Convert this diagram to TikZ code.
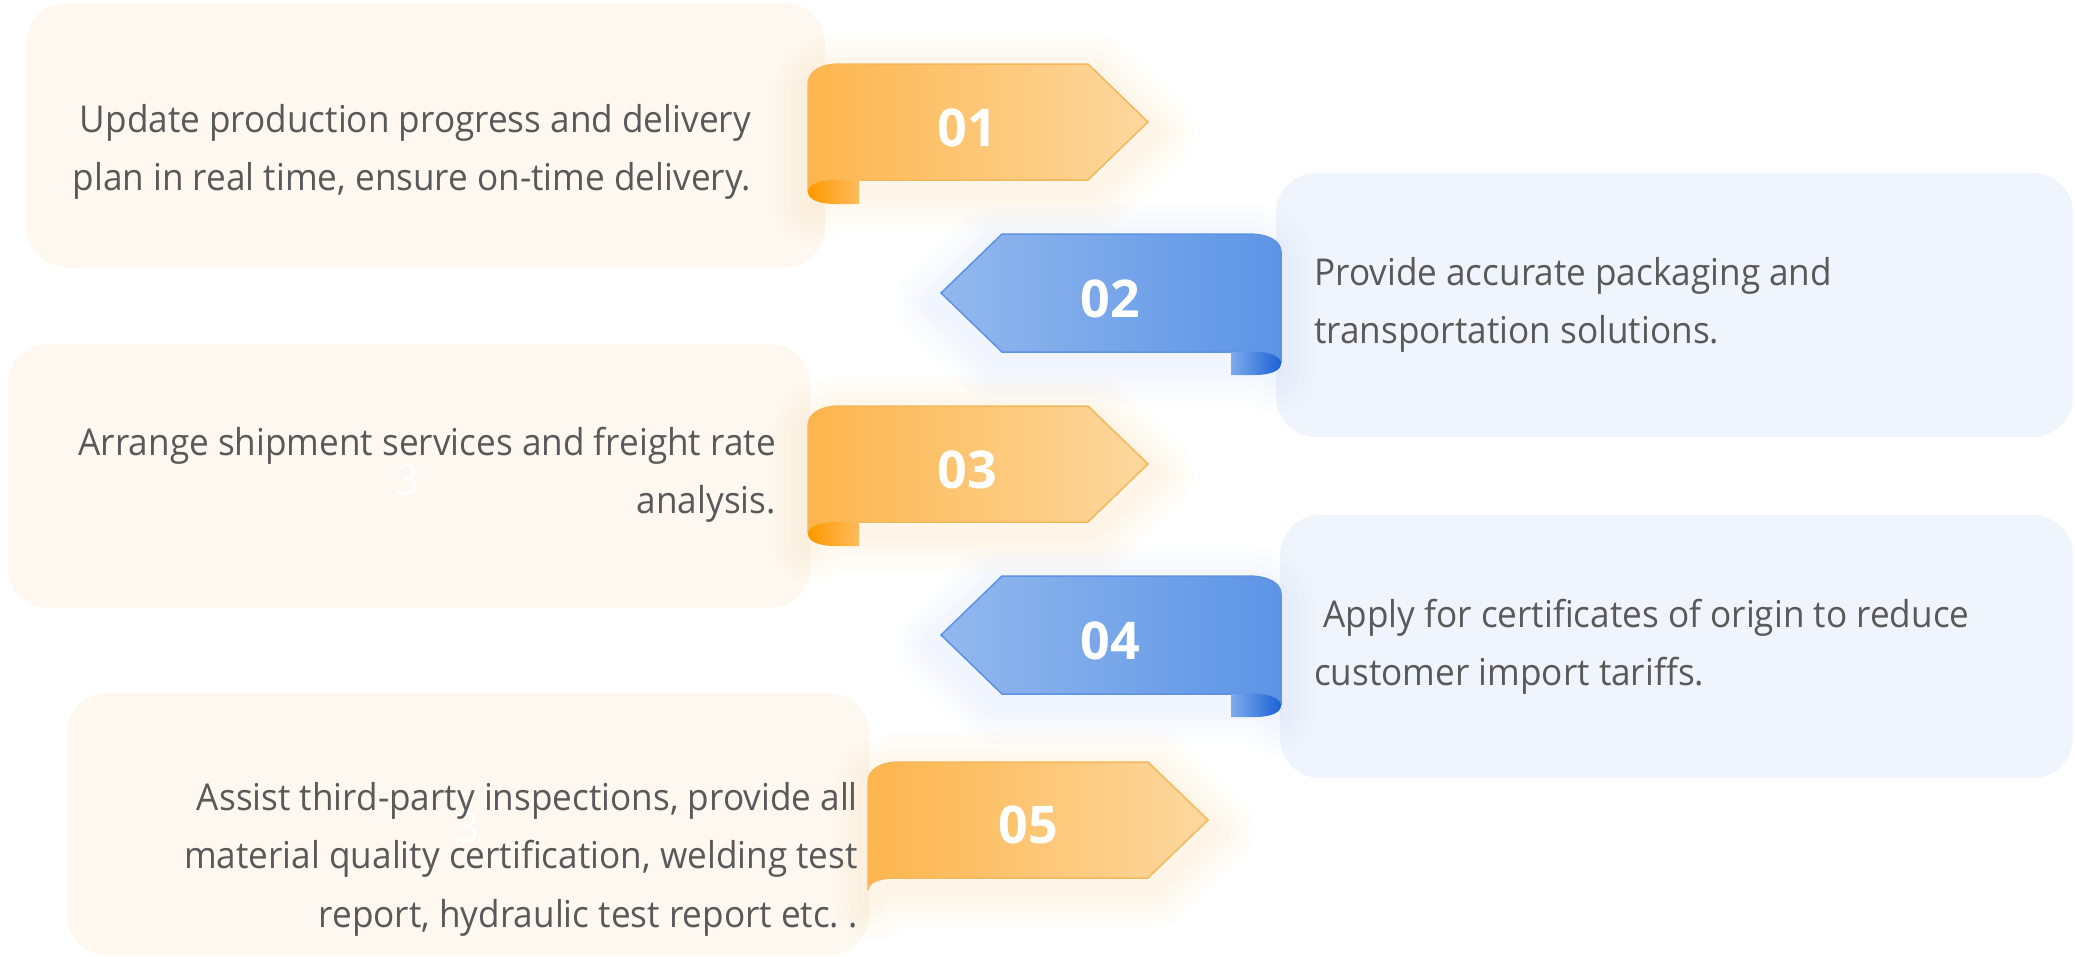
\documentclass[tikz,border=0pt]{standalone}
\usepackage{fontspec}
\setmainfont{Open Sans}
\newfontfamily\bodyfont[FakeStretch=0.95]{Open Sans}
\newfontfamily\numfont{Open Sans}
\frenchspacing
\definecolor{boxO}{HTML}{FFF8F1}
\definecolor{boxB}{HTML}{F0F5FD}
\definecolor{txt}{HTML}{595959}
\definecolor{oL}{HTML}{FDB54D}
\definecolor{oR}{HTML}{FDD89F}
\definecolor{oEdge}{HTML}{F4B85A}
\definecolor{ocL}{HTML}{FF9800}
\definecolor{ocR}{HTML}{FFBC5C}
\definecolor{oGlow}{HTML}{FBD9A8}
\definecolor{bL}{HTML}{93B8EE}
\definecolor{bM}{HTML}{5D95E5}
\definecolor{bR}{HTML}{5C94E5}
\definecolor{bEdge}{HTML}{5E92E2}
\definecolor{bcL}{HTML}{7EABEC}
\definecolor{bcR}{HTML}{1B61D6}
\definecolor{bGlow}{HTML}{C9DAF6}
\tikzset{
  obox/.style={fill=boxO, rounded corners=40pt},
  bbox/.style={fill=boxB, rounded corners=40pt},
  line/.style={font=\bodyfont\fontsize{37}{44}\selectfont, text=txt, inner sep=0pt},
  num/.style={font=\numfont\bfseries\fontsize{52}{60}\selectfont, text=white, inner sep=0pt, anchor=base},
  ghost/.style={font=\bodyfont\fontsize{42}{50}\selectfont, text=white, inner sep=0pt},
  oglow/.style={draw=oGlow, line join=round},
  bglow/.style={draw=bGlow, line join=round},
}
\newcommand\OBody{(808,192) -- (808,84) .. controls (808,72) and (820,64) .. (840,64) -- (1088,64) -- (1148,122) -- (1088,180) -- (835,180) .. controls (820,180) and (808,184) .. (808,192) -- cycle}
\newcommand\OCurl{(859,180) -- (835,180) .. controls (816,180) and (808,186) .. (808,192) .. controls (808,199) and (818,204) .. (835,204) -- (859,204) -- cycle}
\newcommand\BBody{(1281,363) -- (1281,252) .. controls (1281,241) and (1268,234) .. (1248,234) -- (1002,234) -- (941,293) -- (1002,352) -- (1255,352) .. controls (1272,352) and (1281,357) .. (1281,363) -- cycle}
\newcommand\BCurl{(1231,352) -- (1255,352) .. controls (1273,352) and (1281,358) .. (1281,363.5) .. controls (1281,370) and (1272,375) .. (1255,375) -- (1231,375) -- cycle}
\newcommand\ORibbon[1]{%
  \begin{scope}[shift={(6,10)}]
  \foreach \w in {80,64,48,32,16}{\draw[oglow, line width=\w pt, opacity=0.06] \OBody;}
  \end{scope}
  \shadedraw[left color=oL, right color=oR, draw=oEdge, line width=1.5pt] \OBody;
  \ifnum#1=1 \shade[left color=ocL, right color=ocR] \OCurl;\fi}
\newcommand\BRibbon{%
  \begin{scope}[shift={(-6,10)}]
  \foreach \w in {80,64,48,32,16}{\draw[bglow, line width=\w pt, opacity=0.06] \BBody;}
  \end{scope}
  \shadedraw[left color=bL, middle color=bM, right color=bR, draw=bEdge, line width=1.5pt] \BBody;
  \shade[left color=bcL, right color=bcR] \BCurl;}
\begin{document}
\begin{tikzpicture}[x=1pt,y=-1pt]
\useasboundingbox (0,0) rectangle (2075,956);
% boxes
\fill[obox] (26,3) rectangle (825,267);
\fill[bbox] (1276,173) rectangle (2073,437);
\fill[obox] (8,344) rectangle (810,608);
\fill[bbox] (1280,515) rectangle (2073,778);
\fill[obox] (67,693) rectangle (869,955);
% ghost digits
\node[ghost] (g3) at (408,479) {3};
\node[ghost] (g5) at (468,827) {3};
% ribbons
\ORibbon{1}
\begin{scope}[shift={(0,342)}]\ORibbon{1}\end{scope}
\begin{scope}[shift={(60,698)}]\ORibbon{0}\end{scope}
\BRibbon
\begin{scope}[shift={(0,342)}]\BRibbon\end{scope}
% numbers
\node[num] (n1) at (967,146) {01};
\node[num] (n2) at (1110,317) {02};
\node[num] (n3) at (967,488) {03};
\node[num] (n4) at (1110,659) {04};
\node[num] (n5) at (1028,843) {05};
% texts
\node[line, anchor=base east] (t1a) at (751,132) {Update production progress and delivery};
\node[line, anchor=base east] (t1b) at (751,190) {plan in real time, ensure on-time delivery.};
\node[line, anchor=base west] (t2a) at (1314,285) {Provide accurate packaging and};
\node[line, anchor=base west] (t2b) at (1314,343) {transportation solutions.};
\node[line, anchor=base east] (t3a) at (776,455) {Arrange shipment services and freight rate};
\node[line, anchor=base east] (t3b) at (776,513) {analysis.};
\node[line, anchor=base west] (t4a) at (1314,627) {\ Apply for certificates of origin to reduce};
\node[line, anchor=base west] (t4b) at (1314,685) {customer import tariffs.};
\node[line, anchor=base east] (t5a) at (858,810) {Assist third-party inspections, provide all};
\node[line, anchor=base east] (t5b) at (858,868) {material quality certification, welding test};
\node[line, anchor=base east] (t5c) at (858,927) {report, hydraulic test report etc. .};
\end{tikzpicture}
\end{document}
